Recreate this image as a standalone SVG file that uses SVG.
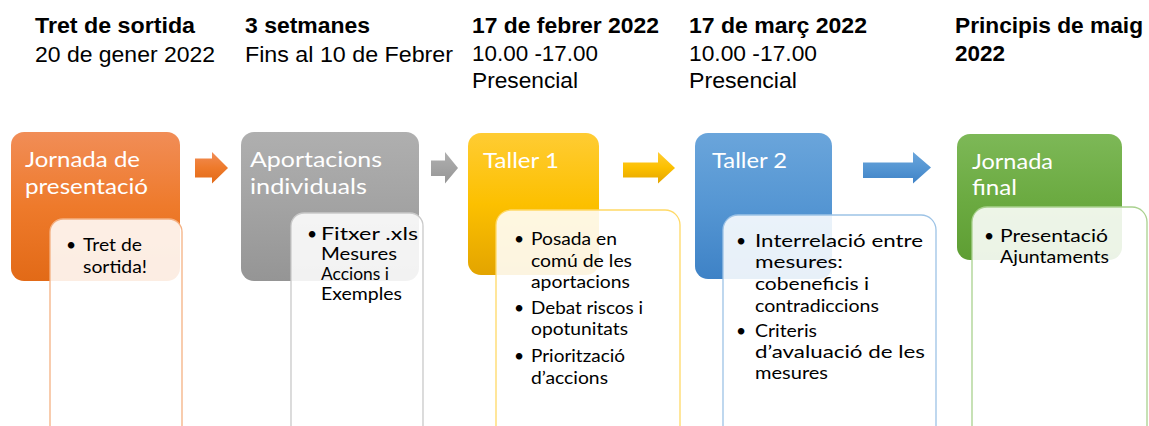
<svg xmlns="http://www.w3.org/2000/svg" width="1149" height="426" viewBox="0 0 1149 426">
<style>
.hd{font-family:"Liberation Sans",Arial,sans-serif;font-size:22px;fill:#000}
.hb{font-weight:bold}
.tt{font-family:Lato,"Open Sans",sans-serif;font-size:22px;fill:#fff}
.bt{font-family:Lato,"Open Sans",sans-serif;font-size:17.5px;fill:#000}
.card{fill:#fff;fill-opacity:0.88;stroke-width:1.3}
</style>
<defs>
<linearGradient id="gO" x1="0" y1="0" x2="0" y2="1"><stop offset="0" stop-color="#F18D57"/><stop offset="0.5" stop-color="#EE7A2B"/><stop offset="1" stop-color="#E26A17"/></linearGradient>
<linearGradient id="gG" x1="0" y1="0" x2="0" y2="1"><stop offset="0" stop-color="#AFAFAF"/><stop offset="0.5" stop-color="#A3A3A3"/><stop offset="1" stop-color="#959595"/></linearGradient>
<linearGradient id="gY" x1="0" y1="0" x2="0" y2="1"><stop offset="0" stop-color="#FFCC33"/><stop offset="0.5" stop-color="#FCC000"/><stop offset="1" stop-color="#E3A400"/></linearGradient>
<linearGradient id="gB" x1="0" y1="0" x2="0" y2="1"><stop offset="0" stop-color="#6AA5DB"/><stop offset="0.5" stop-color="#5596D3"/><stop offset="1" stop-color="#3E82C6"/></linearGradient>
<linearGradient id="gV" x1="0" y1="0" x2="0" y2="1"><stop offset="0" stop-color="#7DB857"/><stop offset="0.5" stop-color="#6CAB42"/><stop offset="1" stop-color="#5E9E33"/></linearGradient>
</defs>
<rect width="1149" height="426" fill="#fff"/>

<g id="headers">
<text class="hd hb" x="35" y="33" textLength="160" lengthAdjust="spacingAndGlyphs">Tret de sortida</text>
<text class="hd" x="35" y="62" textLength="180" lengthAdjust="spacingAndGlyphs">20 de gener 2022</text>
<text class="hd hb" x="245" y="33" textLength="125" lengthAdjust="spacingAndGlyphs">3 setmanes</text>
<text class="hd" x="245" y="62" textLength="208" lengthAdjust="spacingAndGlyphs">Fins al 10 de Febrer</text>
<text class="hd hb" x="472" y="33" textLength="187" lengthAdjust="spacingAndGlyphs">17 de febrer 2022</text>
<text class="hd" x="472" y="61" textLength="126" lengthAdjust="spacingAndGlyphs">10.00 -17.00</text>
<text class="hd" x="472" y="88" textLength="106" lengthAdjust="spacingAndGlyphs">Presencial</text>
<text class="hd hb" x="689" y="33" textLength="178" lengthAdjust="spacingAndGlyphs">17 de març 2022</text>
<text class="hd" x="689" y="61" textLength="128" lengthAdjust="spacingAndGlyphs">10.00 -17.00</text>
<text class="hd" x="689" y="88" textLength="108" lengthAdjust="spacingAndGlyphs">Presencial</text>
<text class="hd hb" x="955" y="33" textLength="188" lengthAdjust="spacingAndGlyphs">Principis de maig</text>
<text class="hd hb" x="955" y="61" textLength="50" lengthAdjust="spacingAndGlyphs">2022</text>
</g>

<g id="connectors">
<polygon points="195,158.5 212,158.5 212,152 228,168 212,183.5 212,177.5 195,177.5" fill="url(#gO)"/>
<polygon points="431,160.5 445,160.5 445,152 458,168 445,183.5 445,176 431,176" fill="url(#gG)"/>
<polygon points="623,162.5 658,162.5 658,152 675,168 658,183.5 658,177.5 623,177.5" fill="url(#gY)"/>
<polygon points="863,162.5 913,162.5 913,152 931,167.5 913,183.5 913,178 863,178" fill="url(#gB)"/>
</g>

<g id="node1">
<rect x="11" y="132" width="169" height="149" rx="13" fill="url(#gO)"/>
<text class="tt" x="25" y="167" textLength="115" lengthAdjust="spacingAndGlyphs">Jornada de</text>
<text class="tt" x="25" y="194" textLength="123" lengthAdjust="spacingAndGlyphs">presentació</text>
<rect class="card" x="50" y="219" width="132" height="230" rx="13" stroke="#F4B183"/>
<text class="bt" x="66" y="251">•</text>
<text class="bt" x="83" y="251" textLength="59" lengthAdjust="spacingAndGlyphs">Tret de</text>
<text class="bt" x="83" y="273" textLength="64" lengthAdjust="spacingAndGlyphs">sortida!</text>
</g>

<g id="node2">
<rect x="241" y="132" width="178" height="149" rx="13" fill="url(#gG)"/>
<text class="tt" x="250" y="167" textLength="132" lengthAdjust="spacingAndGlyphs">Aportacions</text>
<text class="tt" x="250" y="194" textLength="117" lengthAdjust="spacingAndGlyphs">individuals</text>
<rect class="card" x="291" y="213" width="132" height="236" rx="13" stroke="#C9C9C9"/>
<text class="bt" x="307" y="240">•</text>
<text class="bt" x="321" y="240" textLength="97" lengthAdjust="spacingAndGlyphs">Fitxer .xls</text>
<text class="bt" x="321" y="260" textLength="76" lengthAdjust="spacingAndGlyphs">Mesures</text>
<text class="bt" x="321" y="280" textLength="68" lengthAdjust="spacingAndGlyphs">Accions i</text>
<text class="bt" x="321" y="300" textLength="81" lengthAdjust="spacingAndGlyphs">Exemples</text>
</g>

<g id="node3">
<rect x="468" y="133" width="131" height="142" rx="13" fill="url(#gY)"/>
<text class="tt" x="483" y="168" textLength="76" lengthAdjust="spacingAndGlyphs">Taller 1</text>
<rect class="card" x="496" y="210" width="184" height="239" rx="15" stroke="#FFD966"/>
<text class="bt" x="514" y="245">•</text>
<text class="bt" x="531" y="245" textLength="86" lengthAdjust="spacingAndGlyphs">Posada en</text>
<text class="bt" x="531" y="267" textLength="101" lengthAdjust="spacingAndGlyphs">comú de les</text>
<text class="bt" x="531" y="288" textLength="99" lengthAdjust="spacingAndGlyphs">aportacions</text>
<text class="bt" x="514" y="314">•</text>
<text class="bt" x="531" y="314" textLength="112" lengthAdjust="spacingAndGlyphs">Debat riscos i</text>
<text class="bt" x="531" y="335" textLength="97" lengthAdjust="spacingAndGlyphs">opotunitats</text>
<text class="bt" x="514" y="362">•</text>
<text class="bt" x="531" y="362" textLength="94" lengthAdjust="spacingAndGlyphs">Priorització</text>
<text class="bt" x="531" y="384" textLength="77" lengthAdjust="spacingAndGlyphs">d’accions</text>
</g>

<g id="node4">
<rect x="695" y="133" width="137" height="146" rx="13" fill="url(#gB)"/>
<text class="tt" x="712" y="168" textLength="75" lengthAdjust="spacingAndGlyphs">Taller 2</text>
<rect class="card" x="723" y="215" width="213" height="234" rx="15" stroke="#9DC3E6"/>
<text class="bt" x="736" y="247">•</text>
<text class="bt" x="755" y="247" textLength="168" lengthAdjust="spacingAndGlyphs">Interrelació entre</text>
<text class="bt" x="755" y="268" textLength="88" lengthAdjust="spacingAndGlyphs">mesures:</text>
<text class="bt" x="755" y="290" textLength="114" lengthAdjust="spacingAndGlyphs">cobeneficis i</text>
<text class="bt" x="755" y="312" textLength="124" lengthAdjust="spacingAndGlyphs">contradiccions</text>
<text class="bt" x="736" y="337">•</text>
<text class="bt" x="755" y="337" textLength="62" lengthAdjust="spacingAndGlyphs">Criteris</text>
<text class="bt" x="755" y="358" textLength="170" lengthAdjust="spacingAndGlyphs">d’avaluació de les</text>
<text class="bt" x="755" y="379" textLength="73" lengthAdjust="spacingAndGlyphs">mesures</text>
</g>

<g id="node5">
<rect x="957" y="134" width="165" height="126" rx="13" fill="url(#gV)"/>
<text class="tt" x="972" y="169" textLength="81" lengthAdjust="spacingAndGlyphs">Jornada</text>
<text class="tt" x="972" y="195" textLength="45" lengthAdjust="spacingAndGlyphs">final</text>
<rect class="card" x="972" y="207" width="175" height="242" rx="15" stroke="#A9D18E"/>
<text class="bt" x="984" y="242">•</text>
<text class="bt" x="1000" y="242" textLength="108" lengthAdjust="spacingAndGlyphs">Presentació</text>
<text class="bt" x="1000" y="263" textLength="109" lengthAdjust="spacingAndGlyphs">Ajuntaments</text>
</g>
</svg>
